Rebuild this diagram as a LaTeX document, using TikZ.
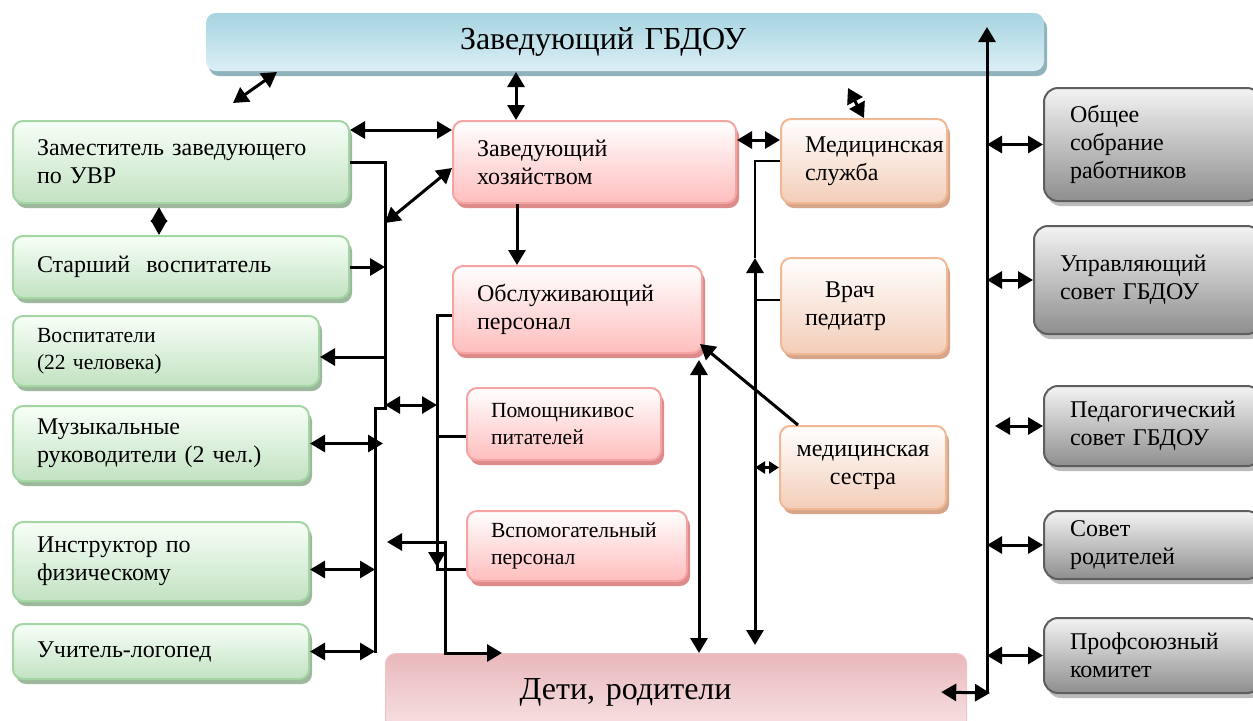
\documentclass[tikz,border=0pt]{standalone}
\usepackage{fontspec}
\setmainfont{Liberation Serif}
\usetikzlibrary{arrows.meta,shadows}

\definecolor{grnline}{HTML}{A3D6A3}
\definecolor{grnbot}{HTML}{C2E2C2}
\definecolor{grnshd}{HTML}{9DB89D}
\definecolor{pnkline}{HTML}{F6A3A3}
\definecolor{pnkbot}{HTML}{FFBDBD}
\definecolor{pnkshd}{HTML}{DC8A8A}
\definecolor{orgline}{HTML}{F1B896}
\definecolor{orgbot}{HTML}{F3CDB8}
\definecolor{orgshd}{HTML}{D7A68A}
\definecolor{gryline}{HTML}{5E5E5E}
\definecolor{grytop}{HTML}{F3F3F3}
\definecolor{grybot}{HTML}{8E8E8E}
\definecolor{gryshd}{HTML}{BBBBBB}
\definecolor{bluetop}{HTML}{A6D4E0}
\definecolor{bluebot}{HTML}{DCEFF5}
\definecolor{blueshd}{HTML}{8FB2BD}
\definecolor{detitop}{HTML}{E9B8BB}
\definecolor{detibot}{HTML}{F7E3E5}
\definecolor{detiline}{HTML}{EFC6C8}

\begin{document}
\begin{tikzpicture}[x=0.5pt, y=-0.5pt,
  box/.style={draw, rounded corners=5pt, line width=1pt, anchor=north west,
    inner xsep=12pt, inner ysep=2pt, align=left, font=\fontsize{12}{14}\selectfont},
  grnbox/.style={box, draw=grnline, top color=green!3!white, bottom color=grnbot,
    drop shadow={shadow xshift=1.5pt, shadow yshift=-2.5pt, fill=grnshd, opacity=1}},
  pnkbox/.style={box, draw=pnkline, top color=white, bottom color=pnkbot,
    drop shadow={shadow xshift=1.5pt, shadow yshift=-2.5pt, fill=pnkshd, opacity=1}},
  orgbox/.style={box, draw=orgline, top color=white, bottom color=orgbot,
    drop shadow={shadow xshift=1.5pt, shadow yshift=-2.5pt, fill=orgshd, opacity=1}},
  grybox/.style={box, draw=gryline, rounded corners=7pt, top color=grytop, bottom color=grybot,
    inner xsep=13pt, drop shadow={shadow xshift=1.5pt, shadow yshift=-2.5pt, fill=gryshd, opacity=1}},
  bluebox/.style={box, draw=none, top color=bluetop, bottom color=bluebot,
    drop shadow={shadow xshift=1.5pt, shadow yshift=-2.5pt, fill=blueshd, opacity=1}},
  detibox/.style={box, draw=detiline, line width=.6pt, top color=detitop, bottom color=detibot},
  smalltext/.style={font=\fontsize{10.8}{13.5}\selectfont},
  link/.style={line width=1.5pt},
  thinlink/.style={line width=0.8pt},
  arr/.style={link, -{Triangle[length=7.5pt,width=8.5pt]}},
  dbl/.style={link, {Triangle[length=7.5pt,width=8.5pt]}-{Triangle[length=7.5pt,width=8.5pt]}},
]
\path[use as bounding box, fill=white] (0,0) rectangle (1253,720);

% top
\node[bluebox, minimum width=419pt, minimum height=29pt, inner xsep=127pt, text width=165pt,
  font=\fontsize{16}{18}\selectfont] (zav) at (205,12) {Заведующий ГБДОУ};

% left column
\node[grnbox, minimum width=168pt, minimum height=41pt, text width=144pt] (zam) at (12,120) {Заместитель заведующего\\по УВР};
\node[grnbox, minimum width=168pt, minimum height=31pt, text width=144pt] (star) at (12,235) {Старший\ \ воспитатель};
\node[grnbox, smalltext, minimum width=153pt, minimum height=35pt, text width=129pt] (vos) at (12,315) {Воспитатели\\(22 человека)};
\node[grnbox, minimum width=148pt, minimum height=37.5pt, text width=124pt] (muz) at (12,405) {Музыкальные\\руководители (2 чел.)};
\node[grnbox, minimum width=148pt, minimum height=39.5pt, text width=124pt] (instr) at (12,521) {Инструктор по\\физическому};
\node[grnbox, minimum width=148pt, minimum height=27.5pt, text width=124pt] (log) at (12,623) {Учитель-логопед};

% middle column
\node[pnkbox, minimum width=141.5pt, minimum height=41pt, text width=117.5pt] (hoz) at (452,120) {Заведующий\\хозяйством};
\node[pnkbox, minimum width=124.5pt, minimum height=43.5pt, text width=100.5pt] (obs) at (452,265) {Обслуживающий\\персонал};
\node[pnkbox, smalltext, minimum width=97pt, minimum height=36pt, text width=73pt] (pom) at (466,387) {Помощникивос\\питателей};
\node[pnkbox, smalltext, minimum width=110pt, minimum height=35pt, text width=86pt] (vsp) at (466,510) {Вспомогательный\\персонал};
\node[detibox, minimum width=290.5pt, minimum height=38.5pt, inner xsep=67pt, text width=156.5pt,
  font=\fontsize{16}{18}\selectfont] (deti) at (385,653) {Дети, родители};

% medical
\node[orgbox, minimum width=83pt, minimum height=42pt, text width=59pt] (med) at (780,118) {Медицинская\\служба};
\node[orgbox, minimum width=83pt, minimum height=48pt, text width=59pt] (vr) at (780,257) {\hspace*{10pt}Врач\\педиатр};
\node[orgbox, minimum width=83pt, minimum height=41.5pt, inner xsep=4pt, text width=75pt, align=center] (ses) at (779,425) {медицинская\\сестра};

% councils
\node[grybox, minimum width=108.5pt, minimum height=56.5pt, text width=82.5pt] (obsh) at (1043,87) {Общее\\собрание\\работников};
\node[grybox, minimum width=113.5pt, minimum height=54pt, text width=87.5pt] (upr) at (1033,225) {Управляющий\\совет ГБДОУ};
\node[grybox, minimum width=108.5pt, minimum height=40pt, text width=82.5pt] (ped) at (1043,385) {Педагогический\\совет ГБДОУ};
\node[grybox, minimum width=108.5pt, minimum height=34pt, text width=82.5pt] (sov) at (1043,510) {Совет\\родителей};
\node[grybox, minimum width=108.5pt, minimum height=37.5pt, text width=82.5pt] (prof) at (1043,617) {Профсоюзный\\комитет};

% bus points
\coordinate (zl) at (233,103);
\coordinate (ld) at (385,223);
\coordinate (la) at (385,405);
\coordinate (lj) at (385,408);
\coordinate (lb2) at (375,408);
\coordinate (lb3) at (375,653);
\coordinate (mb) at (437,567);
\coordinate (cl) at (387,542);
\coordinate (cc) at (445,653);
\coordinate (mu) at (755,258);
\coordinate (md) at (755,645);
\coordinate (rb) at (987,693);
\coordinate (rt) at (987,27);
\coordinate (hx) at ([xshift=32pt]hoz.north west);
\coordinate (hy) at ([xshift=32.5pt]hoz.south west);
\coordinate (oy) at ([xshift=-2pt]obs.south east);

% top links
\draw[dbl] (zl) -- ([xshift=36pt]zav.south west);
\draw[dbl] (hx |- zav.south) -- (hx);
\draw[dbl] (med.north) -- ++(-16,-30);
\draw[dbl] ([yshift=-5pt]zam.north east) -- ([yshift=-5pt]hoz.north west);
\draw[dbl] ([yshift=-10pt]hoz.north east) -- ([yshift=-11pt]med.north west);
\draw[arr] (hy) -- (hy |- obs.north);
\draw[link, {Triangle[length=7.5pt,width=8pt]}-{Triangle[length=7.5pt,width=8pt]}]
  ([xshift=73.5pt,yshift=-1.5pt]zam.south west) -- ([xshift=73.5pt]star.north west);

% left bus
\draw[link] (zam.east) -| (lj) -- (lb2) -- (lb3);
\draw[dbl] (ld) -- ([yshift=-3pt]hoz.west);
\draw[arr] (star.east) -- (star.east -| lj);
\draw[arr] ([yshift=-3pt]vos.east -| lj) -- ([yshift=-3pt]vos.east);
\draw[dbl] (la) -- (la -| mb);
\draw[dbl] (muz.east) -- ([xshift=4pt]muz.east -| lb3);
\draw[dbl] ([yshift=-4pt]instr.east) -- ([yshift=-4pt]instr.east -| lb3);
\draw[dbl] (log.east) -- (log.east -| lb3);

% staff bus
\draw[arr] ([yshift=-3pt]obs.west) -| (mb);
\draw[link] ([yshift=-6pt]pom.west) -| (mb);
\draw[link] ([yshift=-11.5pt]vsp.west) -| (mb);
\draw[dbl] (cl) -| (cc) -- ([xshift=58.5pt]deti.north west);
\draw[dbl] ([yshift=-3pt]oy) -- (oy |- deti.north);
\draw[arr] ([xshift=9.5pt]ses.north west) -- ([shift={(-1.5pt,5pt)}]obs.south east);

% medical bus
\draw[thinlink] (med.west) -| (mu);
\draw[dbl] (mu) -- (md);
\draw[thinlink] ([yshift=3pt]vr.west) -- ([yshift=3pt]vr.west -| mu);
\draw[link, {Triangle[length=5pt,width=6pt]}-{Triangle[length=5pt,width=6pt]}] (ses.west -| mu) -- (ses.west);

% right bus
\draw[arr] (rb) -- (rt);
\draw[dbl] ([xshift=-13pt]deti.east) -- ([xshift=1.5pt]rb);
\draw[dbl] (obsh.west -| rb) -- (obsh.west);
\draw[dbl] (upr.west -| rb) -- (upr.west);
\draw[dbl] ([xshift=-24pt]ped.west) -- (ped.west);
\draw[dbl] (sov.west -| rb) -- (sov.west);
\draw[dbl] (prof.west -| rb) -- (prof.west);
\end{tikzpicture}
\end{document}
